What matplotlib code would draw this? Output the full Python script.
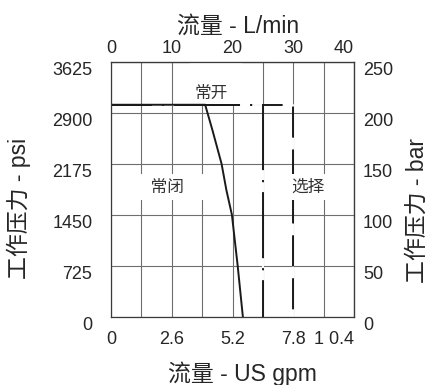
import numpy as np
import matplotlib.pyplot as plt
from matplotlib.patches import Rectangle

plt.rcParams['font.family'] = ['Liberation Sans', 'Noto Sans CJK SC']
plt.rcParams['lines.scale_dashes'] = False

# flow in L/min (top) / US gpm (bottom), pressure in bar (right) / psi (left)
lpm_ticks = [0, 10, 20, 30, 40]
gpm_labels = ['0', '2.6', '5.2', '7.8', '1 0.4']
minor_lpm = [5, 15, 25, 35]
bar_ticks = [0, 50, 100, 150, 200, 250]
psi_labels = ['0', '725', '1450', '2175', '2900', '3625']

knee_bar = 208

# 常开 - solid curve
open_lpm = [0, 15.5, 16.7, 18.2, 19.0, 19.9, 20.85, 21.7]
open_bar = [208, 208, 183, 150, 124, 100, 50, 0]
# 常闭 - dash-dot
closed_lpm = [0, 25, 25]
closed_bar = [208, 208, 0]
# 选择 - dashed
select_lpm = [0, 30, 30]
select_bar = [208, 208, 0]

ink = '#1a1a1a'
txt = '#262626'
gridc = '#6e6e6e'

fig = plt.figure(figsize=(4.36, 3.85), dpi=100)
ax = fig.add_axes([111 / 436, 1 - 316.5 / 385, 243 / 436, 254.5 / 385])
ax.set_xlim(0, 40)
ax.set_ylim(0, 250)

ax.set_xticks(lpm_ticks, gpm_labels)
ax.set_xticks(minor_lpm, minor=True)
ax.set_yticks(bar_ticks, psi_labels)
ax.set_axisbelow(True)
ax.grid(True, which='both', color=gridc, lw=0.8)
ax.tick_params(which='both', length=0)
ax.tick_params(axis='x', pad=10.5, labelsize=13, labelcolor=txt)
ax.tick_params(axis='y', pad=13.5, labelsize=13, labelcolor=txt)
for lab in ax.get_yticklabels():
    lab.set_va('top')
ax.get_xticklabels()[-1].set_ha('right')
for s in ax.spines.values():
    s.set_color('#3a3a3a')
    s.set_linewidth(0.9)

top = ax.secondary_xaxis('top')
top.set_xticks(lpm_ticks)
top.tick_params(length=0, pad=3.5, labelsize=13, labelcolor=txt)
top.get_xticklabels()[-1].set_ha('right')
top.spines['top'].set_color('#3a3a3a')

right = ax.secondary_yaxis('right')
right.set_yticks(bar_ticks)
right.tick_params(length=0, pad=6.5, labelsize=13, labelcolor=txt)
for lab in right.get_yticklabels():
    lab.set_va('top')
right.spines['right'].set_color('#3a3a3a')

# white area behind 常开 (grid is cut there)
ax.add_patch(Rectangle((13, knee_bar + 1), 8.5, 250 - knee_bar, fc='white', ec='none', zorder=1))

ax.plot(select_lpm, select_bar, color=ink, lw=1.4, ls=(22.3, (22.3, 8.6)),
        gapcolor='white', zorder=2)
ax.plot(closed_lpm, closed_bar, color=ink, lw=1.4, ls=(18, (47.5, 7.2, 1.5, 7.2)),
        gapcolor='white', zorder=2.1)
ax.plot(open_lpm, open_bar, color=ink, lw=1.4, zorder=2.2)

ax.text(16.5, 219.5, '常开', ha='center', va='center', fontsize=12, color='#333333', zorder=3)
ax.text(9.2, 127.2, '\u3000常闭\u3000', ha='center', va='center', fontsize=12, color='#333333',
        bbox=dict(boxstyle='square,pad=0.3', fc='white', ec='none'), zorder=3)
ax.text(32.4, 127.2, '选择', ha='center', va='center', fontsize=12, color='#333333',
        bbox=dict(boxstyle='square,pad=0.3', fc='white', ec='none'), zorder=3)

ax.set_xlabel('流量 - US gpm', fontsize=16.5, color=txt)
ax.xaxis.set_label_coords(0.539, -0.175)
top.set_xlabel('流量 - L/min', fontsize=16.5, color=txt)
top.xaxis.set_label_coords(0.523, 1.115, transform=ax.transAxes)
ax.set_ylabel('工作压力 - psi', fontsize=16.5, color=txt)
ax.yaxis.set_label_coords(-0.33, 0.426)
right.set_ylabel('工作压力 - bar', fontsize=16.5, color=txt)
right.yaxis.set_label_coords(1.214, 0.418, transform=ax.transAxes)

fig.savefig('out.png', dpi=100)
